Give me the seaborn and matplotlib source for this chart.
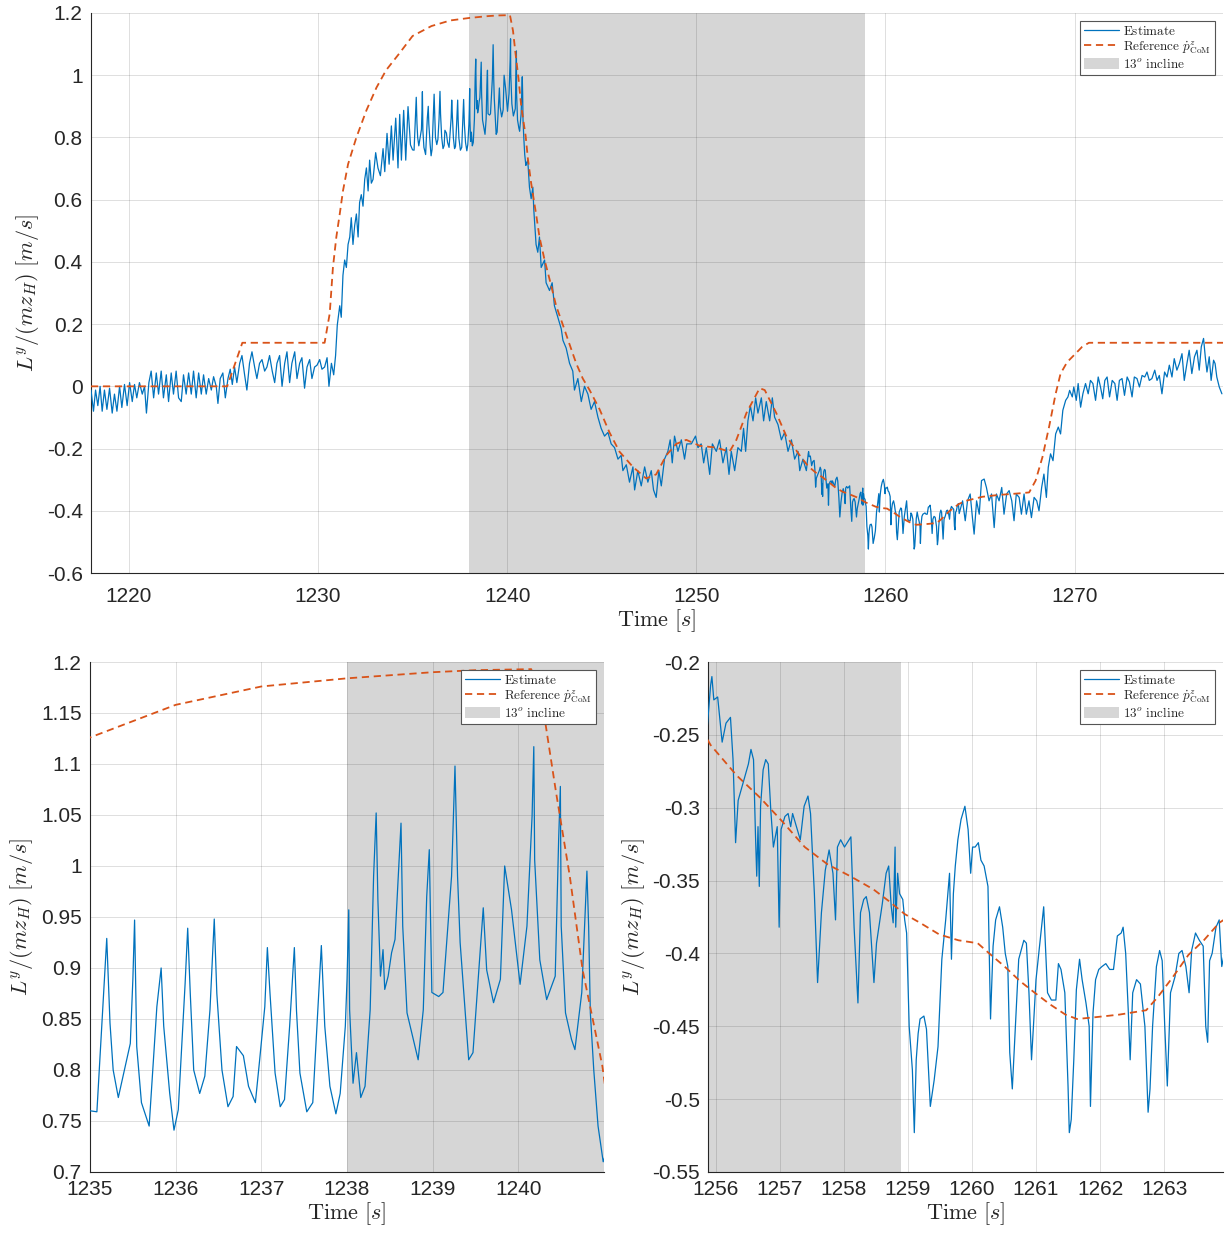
import numpy as np
import pandas as pd
import matplotlib
matplotlib.use("Agg")
import matplotlib.pyplot as plt
import seaborn as sns
from matplotlib.lines import Line2D
from matplotlib.patches import Patch

# ==========================================================
# Data
# ==========================================================
# reference CoM velocity (dashed), (time [s], value)
reference = [
    (1218.00, 0.000), (1225.20, 0.000), (1225.60, 0.070), (1226.00, 0.140),
    (1230.35, 0.140), (1230.62, 0.234), (1230.79, 0.382), (1230.97, 0.480),
    (1231.15, 0.554), (1231.32, 0.628), (1231.59, 0.714), (1232.03, 0.800),
    (1232.56, 0.887), (1233.09, 0.960), (1233.60, 1.016), (1234.30, 1.070),
    (1235.00, 1.126), (1236.00, 1.158), (1237.00, 1.176), (1238.00, 1.184),
    (1239.00, 1.190), (1239.50, 1.192), (1240.15, 1.193), (1240.31, 1.143),
    (1240.44, 1.072), (1240.60, 0.990), (1240.75, 0.898), (1240.87, 0.849),
    (1240.98, 0.804), (1241.10, 0.730), (1241.27, 0.653), (1241.53, 0.554),
    (1241.71, 0.480), (1241.98, 0.406), (1242.24, 0.345), (1242.59, 0.259),
    (1242.95, 0.197), (1243.30, 0.135), (1243.65, 0.074), (1244.00, 0.025),
    (1244.36, -0.012), (1244.89, -0.074), (1245.41, -0.148), (1245.94, -0.210),
    (1246.65, -0.259), (1247.35, -0.296), (1247.88, -0.283), (1248.41, -0.222),
    (1248.94, -0.185), (1249.47, -0.172), (1250.18, -0.191), (1251.06, -0.197),
    (1251.76, -0.210), (1252.12, -0.172), (1252.65, -0.086), (1253.35, -0.006),
    (1253.62, -0.012), (1254.23, -0.086), (1254.76, -0.160), (1255.47, -0.222),
    (1255.92, -0.257), (1256.33, -0.278), (1256.69, -0.293), (1257.03, -0.309),
    (1257.39, -0.327), (1257.75, -0.339), (1258.10, -0.347), (1258.46, -0.356),
    (1258.70, -0.364), (1258.95, -0.373), (1259.19, -0.379), (1259.49, -0.387),
    (1259.79, -0.391), (1260.09, -0.393), (1260.27, -0.400), (1260.51, -0.409),
    (1260.75, -0.419), (1260.98, -0.427), (1261.22, -0.435), (1261.46, -0.442),
    (1261.64, -0.445), (1261.88, -0.444), (1262.30, -0.442), (1262.72, -0.439),
    (1262.90, -0.430), (1263.14, -0.416), (1263.38, -0.401), (1263.62, -0.391),
    (1263.86, -0.379), (1264.25, -0.368), (1265.13, -0.355), (1266.00, -0.349),
    (1267.07, -0.344), (1267.60, -0.341), (1267.94, -0.303), (1268.30, -0.228),
    (1268.65, -0.131), (1269.00, -0.024), (1269.26, 0.041), (1269.61, 0.078),
    (1270.05, 0.105), (1270.40, 0.127), (1270.76, 0.140), (1277.85, 0.140),
]

# estimate, 1218 - 1235 (flat walking, then ramp up)
estimate_a = [
    (1218.00, -0.012), (1218.13, -0.080), (1218.24, -0.012), (1218.36, -0.062),
    (1218.48, 0.000), (1218.59, -0.080), (1218.71, -0.012), (1218.84, -0.074),
    (1218.98, -0.006), (1219.12, -0.086), (1219.24, -0.025), (1219.37, -0.080),
    (1219.51, 0.000), (1219.63, -0.068), (1219.77, 0.006), (1219.91, -0.062),
    (1220.04, 0.012), (1220.18, -0.049), (1220.30, 0.006), (1220.42, -0.037),
    (1220.56, 0.012), (1220.71, -0.025), (1220.83, 0.000), (1220.93, -0.086),
    (1221.06, 0.012), (1221.18, 0.049), (1221.31, -0.037), (1221.45, 0.043),
    (1221.57, -0.025), (1221.71, 0.049), (1221.83, -0.037), (1221.98, 0.037),
    (1222.10, -0.049), (1222.24, 0.043), (1222.36, -0.025), (1222.50, 0.049),
    (1222.63, -0.037), (1222.77, -0.049), (1222.89, 0.037), (1223.03, -0.025),
    (1223.16, 0.043), (1223.30, -0.025), (1223.42, 0.049), (1223.56, -0.037),
    (1223.69, 0.043), (1223.83, -0.025), (1223.95, 0.037), (1224.09, -0.025),
    (1224.22, 0.025), (1224.36, -0.012), (1224.48, 0.031), (1224.62, 0.000),
    (1224.71, -0.055), (1224.83, 0.025), (1224.97, 0.043), (1225.10, -0.037),
    (1225.24, 0.025), (1225.36, 0.055), (1225.47, 0.006), (1225.59, 0.062),
    (1225.71, 0.012), (1225.86, 0.074), (1225.98, 0.099), (1226.12, 0.037),
    (1226.24, -0.012), (1226.38, 0.074), (1226.51, 0.111), (1226.65, 0.062),
    (1226.77, 0.025), (1226.91, 0.074), (1227.04, 0.086), (1227.18, 0.049),
    (1227.30, 0.062), (1227.44, 0.099), (1227.58, 0.049), (1227.71, 0.012),
    (1227.83, 0.074), (1227.97, 0.099), (1228.10, 0.000), (1228.24, 0.074),
    (1228.36, 0.111), (1228.50, 0.012), (1228.62, 0.074), (1228.77, 0.111),
    (1228.89, 0.025), (1229.03, 0.074), (1229.15, 0.092), (1229.29, -0.006),
    (1229.42, 0.062), (1229.56, 0.086), (1229.68, 0.025), (1229.82, 0.062),
    (1229.95, 0.068), (1230.09, 0.086), (1230.21, 0.055), (1230.35, 0.062),
    (1230.48, 0.092), (1230.58, 0.000), (1230.71, 0.074), (1230.83, 0.037),
    (1230.93, 0.099), (1231.02, 0.197), (1231.15, 0.259), (1231.23, 0.222),
    (1231.32, 0.357), (1231.41, 0.406), (1231.50, 0.382), (1231.59, 0.456),
    (1231.68, 0.480), (1231.76, 0.542), (1231.85, 0.456), (1231.94, 0.517),
    (1232.03, 0.554), (1232.12, 0.480), (1232.20, 0.591), (1232.29, 0.616),
    (1232.38, 0.579), (1232.47, 0.665), (1232.56, 0.702), (1232.65, 0.628),
    (1232.73, 0.727), (1232.82, 0.653), (1232.91, 0.665), (1233.05, 0.751),
    (1233.17, 0.702), (1233.30, 0.677), (1233.44, 0.764), (1233.53, 0.690),
    (1233.65, 0.813), (1233.76, 0.714), (1233.88, 0.837), (1233.97, 0.727),
    (1234.11, 0.862), (1234.23, 0.702), (1234.32, 0.874), (1234.41, 0.727),
    (1234.53, 0.887), (1234.64, 0.727), (1234.76, 0.899), (1234.89, 0.776),
]

# estimate, 1235 - 1241 (zoomed window, incline starts at 1238)
estimate_b = [
    (1235.00, 0.760), (1235.08, 0.759), (1235.175, 0.898), (1235.195, 0.929),
    (1235.233, 0.846), (1235.27, 0.800), (1235.33, 0.773), (1235.47, 0.826),
    (1235.50, 0.889), (1235.52, 0.947), (1235.545, 0.823), (1235.60, 0.768),
    (1235.69, 0.745), (1235.78, 0.862), (1235.83, 0.900), (1235.86, 0.843),
    (1235.93, 0.777), (1235.98, 0.741), (1236.03, 0.761), (1236.11, 0.885),
    (1236.14, 0.939), (1236.17, 0.875), (1236.21, 0.800), (1236.28, 0.777),
    (1236.34, 0.794), (1236.40, 0.859), (1236.45, 0.948), (1236.48, 0.875),
    (1236.54, 0.800), (1236.61, 0.764), (1236.67, 0.774), (1236.71, 0.823),
    (1236.79, 0.814), (1236.85, 0.784), (1236.93, 0.768), (1236.98, 0.810),
    (1237.04, 0.862), (1237.07, 0.920), (1237.10, 0.876), (1237.16, 0.797),
    (1237.22, 0.764), (1237.27, 0.771), (1237.33, 0.843), (1237.385, 0.920),
    (1237.41, 0.858), (1237.45, 0.797), (1237.53, 0.759), (1237.60, 0.768),
    (1237.67, 0.876), (1237.70, 0.922), (1237.74, 0.843), (1237.80, 0.784),
    (1237.87, 0.757), (1237.92, 0.777), (1237.98, 0.843), (1238.00, 0.889),
    (1238.02, 0.957), (1238.03, 0.859), (1238.07, 0.787), (1238.11, 0.817),
    (1238.16, 0.773), (1238.21, 0.784), (1238.27, 0.859), (1238.31, 0.990),
    (1238.34, 1.052), (1238.36, 0.967), (1238.39, 0.892), (1238.42, 0.918),
    (1238.44, 0.879), (1238.48, 0.892), (1238.52, 0.915), (1238.56, 0.928),
    (1238.60, 0.993), (1238.63, 1.042), (1238.65, 0.941), (1238.70, 0.856),
    (1238.83, 0.810), (1238.89, 0.859), (1238.93, 0.970), (1238.96, 1.016),
    (1238.99, 0.876), (1239.07, 0.872), (1239.12, 0.876), (1239.22, 0.990),
    (1239.26, 1.098), (1239.29, 0.990), (1239.32, 0.925), (1239.42, 0.810),
    (1239.47, 0.817), (1239.59, 0.959), (1239.63, 0.898), (1239.71, 0.866),
    (1239.79, 0.889), (1239.84, 1.000), (1239.92, 0.957), (1240.02, 0.884),
    (1240.10, 0.941), (1240.16, 1.049), (1240.18, 1.117), (1240.19, 1.006),
    (1240.25, 0.908), (1240.33, 0.869), (1240.43, 0.892), (1240.47, 1.026),
    (1240.49, 1.078), (1240.50, 0.941), (1240.55, 0.856), (1240.62, 0.830),
    (1240.66, 0.820), (1240.74, 0.876), (1240.80, 0.995), (1240.82, 0.941),
    (1240.84, 0.856), (1240.88, 0.800), (1240.93, 0.745), (1240.99, 0.710),
    (1241.01, 0.715),
]

# estimate, 1241 - 1256 (on the incline)
estimate_c = [
    (1241.09, 0.727), (1241.18, 0.640), (1241.27, 0.603), (1241.36, 0.640),
    (1241.41, 0.567), (1241.53, 0.456), (1241.62, 0.431), (1241.71, 0.480),
    (1241.80, 0.382), (1241.98, 0.406), (1242.06, 0.333), (1242.24, 0.308),
    (1242.38, 0.333), (1242.50, 0.259), (1242.68, 0.222), (1242.86, 0.185),
    (1242.95, 0.148), (1243.12, 0.123), (1243.30, 0.074), (1243.47, 0.049),
    (1243.56, -0.012), (1243.74, 0.025), (1243.92, -0.049), (1244.09, 0.000),
    (1244.27, -0.025), (1244.44, -0.074), (1244.62, -0.049), (1244.80, -0.099),
    (1244.97, -0.135), (1245.15, -0.160), (1245.33, -0.148), (1245.50, -0.185),
    (1245.68, -0.197), (1245.86, -0.234), (1246.03, -0.222), (1246.12, -0.271),
    (1246.30, -0.252), (1246.47, -0.308), (1246.65, -0.259), (1246.74, -0.333),
    (1246.91, -0.271), (1247.09, -0.320), (1247.27, -0.259), (1247.44, -0.308),
    (1247.62, -0.271), (1247.74, -0.333), (1247.88, -0.357), (1248.02, -0.271),
    (1248.15, -0.320), (1248.32, -0.234), (1248.50, -0.209), (1248.62, -0.172),
    (1248.73, -0.246), (1248.85, -0.160), (1249.03, -0.209), (1249.21, -0.172),
    (1249.38, -0.234), (1249.50, -0.185), (1249.74, -0.185), (1249.96, -0.160),
    (1250.09, -0.197), (1250.26, -0.185), (1250.39, -0.246), (1250.53, -0.197),
    (1250.71, -0.283), (1250.85, -0.185), (1251.06, -0.209), (1251.23, -0.172),
    (1251.41, -0.246), (1251.59, -0.197), (1251.73, -0.283), (1251.85, -0.209),
    (1252.03, -0.271), (1252.20, -0.197), (1252.38, -0.209), (1252.50, -0.135),
    (1252.61, -0.209), (1252.73, -0.111), (1252.86, -0.062), (1253.00, -0.111),
    (1253.14, -0.037), (1253.26, -0.086), (1253.44, -0.037), (1253.56, -0.111),
    (1253.70, -0.049), (1253.88, -0.111), (1254.02, -0.037), (1254.14, -0.099),
    (1254.32, -0.123), (1254.50, -0.172), (1254.67, -0.148), (1254.85, -0.209),
    (1255.03, -0.172), (1255.20, -0.234), (1255.38, -0.209), (1255.47, -0.271),
    (1255.64, -0.234), (1255.82, -0.271),
]

# estimate, 1256 - 1264 (zoomed window, incline ends at 1258.9)
estimate_d = [
    (1255.92, -0.216), (1255.94, -0.210), (1255.97, -0.226), (1256.03, -0.224),
    (1256.10, -0.255), (1256.16, -0.242), (1256.23, -0.238), (1256.27, -0.267),
    (1256.31, -0.324), (1256.35, -0.295), (1256.44, -0.281), (1256.51, -0.270),
    (1256.55, -0.260), (1256.59, -0.267), (1256.62, -0.318), (1256.64, -0.347),
    (1256.66, -0.313), (1256.68, -0.354), (1256.70, -0.299), (1256.74, -0.274),
    (1256.78, -0.267), (1256.82, -0.270), (1256.86, -0.302), (1256.90, -0.327),
    (1256.96, -0.313), (1256.99, -0.382), (1257.02, -0.315), (1257.08, -0.306),
    (1257.13, -0.304), (1257.17, -0.313), (1257.20, -0.304), (1257.32, -0.322),
    (1257.38, -0.299), (1257.44, -0.292), (1257.48, -0.304), (1257.51, -0.331),
    (1257.54, -0.359), (1257.59, -0.420), (1257.65, -0.372), (1257.71, -0.343),
    (1257.77, -0.329), (1257.83, -0.345), (1257.87, -0.377), (1257.90, -0.327),
    (1257.95, -0.322), (1258.01, -0.327), (1258.11, -0.320), (1258.16, -0.382),
    (1258.20, -0.416), (1258.22, -0.434), (1258.26, -0.372), (1258.31, -0.363),
    (1258.35, -0.361), (1258.40, -0.372), (1258.47, -0.420), (1258.51, -0.393),
    (1258.60, -0.366), (1258.66, -0.345), (1258.70, -0.340), (1258.74, -0.368),
    (1258.77, -0.379), (1258.80, -0.327), (1258.81, -0.382), (1258.84, -0.345),
    (1258.87, -0.359), (1258.92, -0.363), (1258.95, -0.377), (1258.98, -0.386),
    (1259.02, -0.450), (1259.07, -0.480), (1259.10, -0.523), (1259.13, -0.473),
    (1259.16, -0.455), (1259.19, -0.445), (1259.25, -0.443), (1259.29, -0.452),
    (1259.35, -0.505), (1259.41, -0.487), (1259.47, -0.464), (1259.53, -0.404),
    (1259.59, -0.377), (1259.65, -0.345), (1259.68, -0.404), (1259.71, -0.359),
    (1259.74, -0.340), (1259.78, -0.322), (1259.83, -0.308), (1259.89, -0.299),
    (1259.94, -0.315), (1259.98, -0.345), (1260.01, -0.327), (1260.05, -0.327),
    (1260.10, -0.324), (1260.14, -0.336), (1260.19, -0.340), (1260.25, -0.354),
    (1260.29, -0.445), (1260.33, -0.395), (1260.37, -0.377), (1260.43, -0.368),
    (1260.48, -0.382), (1260.52, -0.400), (1260.56, -0.409), (1260.59, -0.468),
    (1260.63, -0.493), (1260.67, -0.457), (1260.73, -0.404), (1260.81, -0.391),
    (1260.85, -0.393), (1260.89, -0.427), (1260.93, -0.473), (1260.96, -0.450),
    (1261.00, -0.418), (1261.06, -0.393), (1261.12, -0.368), (1261.18, -0.427),
    (1261.24, -0.432), (1261.31, -0.432), (1261.35, -0.407), (1261.39, -0.411),
    (1261.45, -0.427), (1261.50, -0.491), (1261.52, -0.523), (1261.55, -0.514),
    (1261.59, -0.473), (1261.63, -0.425), (1261.68, -0.404), (1261.72, -0.418),
    (1261.78, -0.434), (1261.83, -0.450), (1261.85, -0.505), (1261.89, -0.441),
    (1261.93, -0.418), (1261.98, -0.411), (1262.03, -0.409), (1262.09, -0.407),
    (1262.15, -0.411), (1262.21, -0.411), (1262.27, -0.388), (1262.33, -0.386),
    (1262.36, -0.382), (1262.40, -0.400), (1262.44, -0.439), (1262.47, -0.473),
    (1262.51, -0.427), (1262.57, -0.418), (1262.63, -0.421), (1262.70, -0.450),
    (1262.75, -0.509), (1262.78, -0.493), (1262.82, -0.450), (1262.88, -0.409),
    (1262.93, -0.398), (1262.97, -0.405), (1263.01, -0.450), (1263.05, -0.491),
    (1263.10, -0.427), (1263.17, -0.416), (1263.23, -0.400), (1263.28, -0.398),
    (1263.34, -0.409), (1263.39, -0.427), (1263.43, -0.398), (1263.49, -0.386),
    (1263.55, -0.391), (1263.61, -0.395), (1263.65, -0.450), (1263.68, -0.461),
    (1263.71, -0.405), (1263.75, -0.400), (1263.81, -0.382), (1263.86, -0.377),
    (1263.90, -0.409),
]

# estimate, 1264 - 1278 (back on flat ground, ramp up)
estimate_e = [
    (1264.08, -0.368), (1264.22, -0.432), (1264.34, -0.368), (1264.48, -0.346),
    (1264.60, -0.422), (1264.69, -0.475), (1264.82, -0.368), (1264.96, -0.411),
    (1265.08, -0.303), (1265.22, -0.298), (1265.34, -0.325), (1265.48, -0.368),
    (1265.61, -0.346), (1265.75, -0.454), (1265.87, -0.346), (1266.01, -0.368),
    (1266.15, -0.325), (1266.27, -0.411), (1266.41, -0.346), (1266.54, -0.335),
    (1266.68, -0.368), (1266.80, -0.432), (1266.92, -0.346), (1267.07, -0.357),
    (1267.19, -0.411), (1267.33, -0.346), (1267.45, -0.411), (1267.59, -0.368),
    (1267.72, -0.422), (1267.86, -0.357), (1268.00, -0.368), (1268.12, -0.400),
    (1268.26, -0.325), (1268.38, -0.282), (1268.51, -0.357), (1268.61, -0.260),
    (1268.73, -0.217), (1268.86, -0.239), (1269.00, -0.153), (1269.14, -0.131),
    (1269.26, -0.153), (1269.38, -0.077), (1269.53, -0.045), (1269.65, -0.034),
    (1269.74, -0.013), (1269.88, -0.034), (1269.96, -0.002), (1270.09, -0.045),
    (1270.19, 0.009), (1270.32, -0.067), (1270.44, -0.024), (1270.58, 0.009),
    (1270.72, -0.024), (1270.84, 0.019), (1270.97, 0.009), (1271.11, -0.045),
    (1271.25, 0.030), (1271.37, -0.002), (1271.49, -0.040), (1271.60, 0.019),
    (1271.72, 0.030), (1271.85, -0.034), (1271.99, 0.019), (1272.13, 0.009),
    (1272.25, -0.045), (1272.37, 0.019), (1272.51, 0.025), (1272.64, -0.029),
    (1272.78, 0.030), (1272.90, 0.014), (1273.04, -0.034), (1273.16, 0.030),
    (1273.30, 0.025), (1273.43, -0.002), (1273.57, 0.035), (1273.71, 0.030),
    (1273.83, 0.046), (1273.95, 0.019), (1274.09, 0.025), (1274.24, 0.052),
    (1274.36, 0.019), (1274.48, 0.035), (1274.62, -0.024), (1274.76, 0.046),
    (1274.89, 0.030), (1275.01, 0.068), (1275.15, 0.030), (1275.27, 0.089),
    (1275.41, 0.052), (1275.54, 0.073), (1275.68, 0.105), (1275.80, 0.019),
    (1275.94, 0.073), (1276.06, 0.116), (1276.20, 0.041), (1276.34, 0.095),
    (1276.47, 0.116), (1276.59, 0.052), (1276.70, 0.127), (1276.82, 0.154),
    (1276.91, 0.095), (1277.00, 0.046), (1277.12, 0.095), (1277.22, 0.019),
    (1277.35, 0.084), (1277.43, 0.073), (1277.52, 0.030), (1277.65, -0.002),
    (1277.79, -0.024),
]

incline = (1238.0, 1258.9)

legend_labels = [r"$\mathrm{Estimate}$",
                 r"$\mathrm{Reference}\ \dot{p}^{z}_{\mathrm{CoM}}$",
                 r"$13^{o}\ \mathrm{incline}$"]

# axis windows: xlim, ylim, xticks, yticks
top_xlim, top_ylim = (1218.0, 1277.85), (-0.6, 1.2)
top_xticks = [1220, 1230, 1240, 1250, 1260, 1270]
top_yticks = [-0.6, -0.4, -0.2, 0, 0.2, 0.4, 0.6, 0.8, 1.0, 1.2]

left_xlim, left_ylim = (1235.0, 1241.0), (0.7, 1.2)
left_xticks = [1235, 1236, 1237, 1238, 1239, 1240]
left_yticks = [0.7, 0.75, 0.8, 0.85, 0.9, 0.95, 1.0, 1.05, 1.1, 1.15, 1.2]

right_xlim, right_ylim = (1255.88, 1263.92), (-0.55, -0.2)
right_xticks = [1256, 1257, 1258, 1259, 1260, 1261, 1262, 1263]
right_yticks = [-0.55, -0.5, -0.45, -0.4, -0.35, -0.3, -0.25, -0.2]

# ==========================================================
# Build tables
# ==========================================================
est_df = pd.DataFrame(estimate_a + estimate_b + estimate_c + estimate_d + estimate_e,
                      columns=["t", "v"])
ref_df = pd.DataFrame(reference, columns=["t", "v"])

# ==========================================================
# Style (MATLAB-like)
# ==========================================================
sns.set_style("white")
plt.rcParams["font.family"] = ["Liberation Sans", "DejaVu Sans"]
plt.rcParams["mathtext.fontset"] = "cm"
plt.rcParams["axes.unicode_minus"] = False

BLUE = "#0072BD"
ORANGE = "#D95319"
GRAY = "#D6D6D6"
DARK = "#262626"

fig = plt.figure(figsize=(12.25, 12.36), dpi=100)
ax_top = fig.add_axes([0.0743, 0.5364, 0.9241, 0.4531])
ax_left = fig.add_axes([0.0735, 0.0518, 0.4196, 0.4126])
ax_right = fig.add_axes([0.5780, 0.0518, 0.4204, 0.4126])

# (axes, xlim, ylim, xticks, yticks, x tick pad)
panels = [
    (ax_top, top_xlim, top_ylim, top_xticks, top_yticks, 10),
    (ax_left, left_xlim, left_ylim, left_xticks, left_yticks, 5.5),
    (ax_right, right_xlim, right_ylim, right_xticks, right_yticks, 5.5),
]

for ax, xlim, ylim, xt, yt, xpad in panels:
    ax.axvspan(*incline, color=GRAY, lw=0, zorder=0.1)
    sns.lineplot(data=est_df, x="t", y="v", ax=ax, color=BLUE, lw=0.9,
                 estimator=None, sort=False, zorder=3)
    sns.lineplot(data=ref_df, x="t", y="v", ax=ax, color=ORANGE, lw=1.3,
                 estimator=None, sort=False, zorder=4)
    ax.lines[-1].set_dashes([4, 2.6])

    ax.set_xlim(*xlim)
    ax.set_ylim(*ylim)
    ax.set_xticks(xt, [f"{x:g}" for x in xt])
    ax.set_yticks(yt, [f"{y:g}" for y in yt])
    ax.set_axisbelow(True)
    ax.grid(True, color=(0.15, 0.15, 0.15), alpha=0.15, lw=0.7)
    for side in ["top", "right"]:
        ax.spines[side].set_visible(False)
    for side in ["left", "bottom"]:
        ax.spines[side].set_color(DARK)
        ax.spines[side].set_linewidth(0.8)
    ax.tick_params(direction="in", length=5, width=0.7, color=DARK,
                   labelcolor=DARK, labelsize=15)
    ax.tick_params(axis="x", pad=xpad)
    ax.tick_params(axis="y", pad=6)
    ax.set_xlabel(r"$\mathrm{Time}\ [s]$", fontsize=16, color=DARK, labelpad=1)
    ax.set_ylabel(r"$L^y/(mz_H)\ [m/s]$", fontsize=16, color=DARK)

    handles = [Line2D([], [], color=BLUE, lw=0.9),
               Line2D([], [], color=ORANGE, lw=1.3, dashes=[4, 2.6]),
               Patch(facecolor=GRAY, edgecolor="none")]
    leg = ax.legend(handles, legend_labels, loc="upper right", fontsize=9.5,
                    frameon=True, fancybox=False, framealpha=1,
                    edgecolor="#555555", handlelength=2.7, handleheight=0.9,
                    borderpad=0.3, labelspacing=0.1, handletextpad=0.3,
                    borderaxespad=0.6)
    leg.get_frame().set_linewidth(0.8)

fig.savefig("out.png", dpi=100)
